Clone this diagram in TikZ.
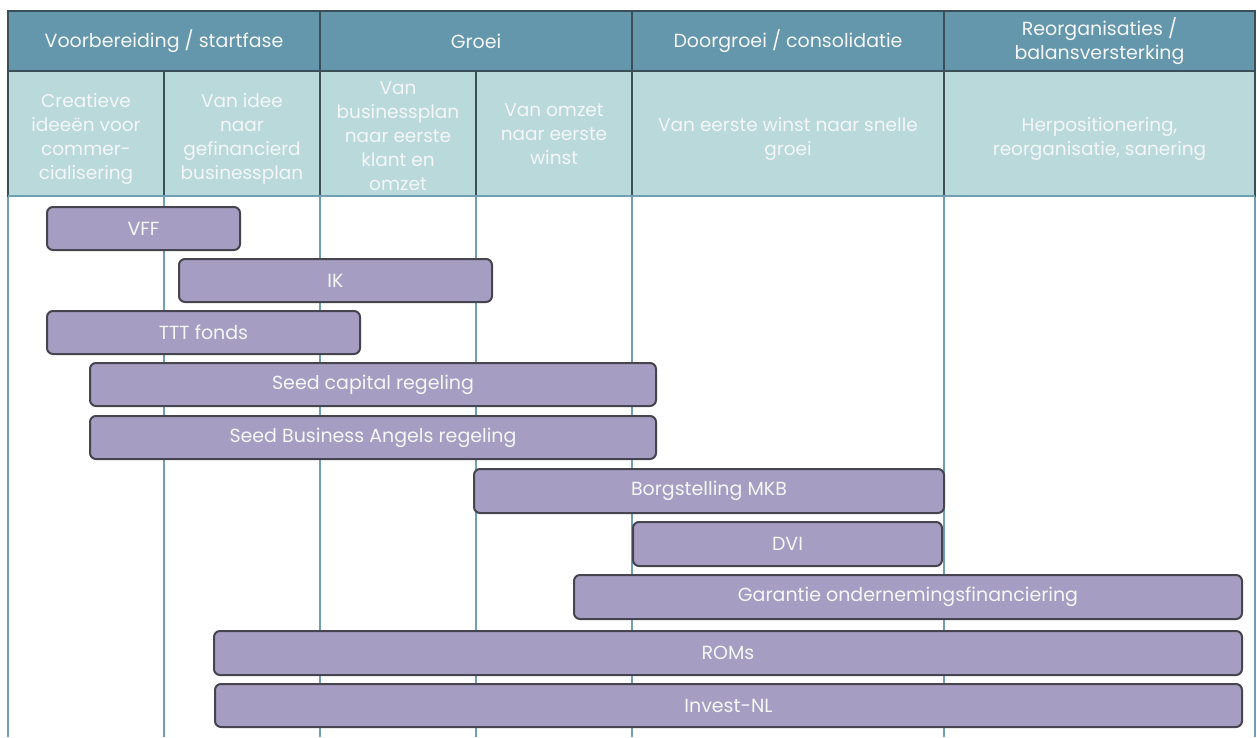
\documentclass[tikz,border=0pt]{standalone}
\usepackage{fontspec}
\setmainfont{Poppins}
\definecolor{hdrfill}{HTML}{6496AC}
\definecolor{subfill}{HTML}{BAD9DB}
\definecolor{gridc}{HTML}{3A4F57}
\definecolor{tealc}{HTML}{6E9FB4}
\definecolor{barfill}{HTML}{A59EC2}
\definecolor{barline}{HTML}{46444F}
\definecolor{txtc}{HTML}{F4F6F7}
\begin{document}
\begin{tikzpicture}[x=1pt,y=-1pt,
  cellbase/.style={draw=gridc, line width=2pt, inner sep=0pt, outer sep=0pt, align=center, text=txtc},
  hdr/.style={cellbase, fill=hdrfill, minimum height=61pt, font=\fontsize{19}{24}\selectfont},
  sub/.style={cellbase, fill=subfill, minimum height=125pt},
  subtxt/.style={inner sep=0pt, align=center, text=txtc, font=\fontsize{18.5}{24}\selectfont},
  vline/.style={draw=tealc, line width=2pt},
  bar/.style={draw=barline, fill=barfill, line width=2pt, rounded corners=6pt, inner sep=0pt,
    text=txtc, font=\fontsize{19}{22}\selectfont}]
\useasboundingbox (0,0) rectangle (1257,737);
% body vertical lines
\foreach \x in {8,164,320,476,632,944,1255}{\draw[vline] (\x,196) -- (\x,737);}
% header row
\node[hdr, minimum width=312pt] (h1) at (164,41) {Voorbereiding / startfase};
\node[hdr, minimum width=312pt] (h2) at (476,41) {Groei};
\node[hdr, minimum width=312pt] (h3) at (788,41) {Doorgroei / consolidatie};
\node[hdr, minimum width=311pt] (h4) at (1099.5,41) {Reorganisaties /\\balansversterking};
% sub row cells
\node[sub, minimum width=156pt] (s1) at (86,133.5) {};
\node[sub, minimum width=156pt] (s2) at (242,133.5) {};
\node[sub, minimum width=156pt] (s3) at (398,133.5) {};
\node[sub, minimum width=156pt] (s4) at (554,133.5) {};
\node[sub, minimum width=312pt] (s5) at (788,133.5) {};
\node[sub, minimum width=311pt] (s6) at (1099.5,133.5) {};
\draw[vline] (s1.south west) -- (s6.south east);
% sub row texts
\node[subtxt] (t1) at (86,138.5) {Creatieve\\ideeën voor\\commer-\\cialisering};
\node[subtxt] (t2) at (242,138.5) {Van idee\\naar\\gefinancierd\\businessplan};
\node[subtxt] (t3) at (398,136) {Van\\businessplan\\naar eerste\\klant en\\omzet};
\node[subtxt] (t4) at (554,134.5) {Van omzet\\naar eerste\\winst};
\node[subtxt] (t5) at (788,138.5) {Van eerste winst naar snelle\\groei};
\node[subtxt] (t6) at (1099.5,138.5) {Herpositionering,\\reorganisatie, sanering};
% bars
\node[bar, minimum width=193pt, minimum height=43pt] (vff) at (143.5,228.5) {VFF};
\node[bar, minimum width=313pt, minimum height=43pt] (ik) at (335.5,280.5) {IK};
\node[bar, minimum width=313pt, minimum height=43pt] (ttt) at (203.5,332.5) {TTT fonds};
\node[bar, minimum width=566pt, minimum height=43pt] (seed) at (373,384.5) {Seed capital regeling};
\node[bar, minimum width=566pt, minimum height=43pt] (sba) at (373,437.5) {Seed Business Angels regeling};
\node[bar, minimum width=470pt, minimum height=44pt] (borg) at (709,491) {Borgstelling MKB};
\node[bar, minimum width=309pt, minimum height=44pt] (dvi) at (787.5,544) {DVI};
\node[bar, minimum width=668pt, minimum height=44pt] (gar) at (908,597) {Garantie ondernemingsfinanciering};
\node[bar, minimum width=1028pt, minimum height=44pt] (rom) at (728,653) {ROMs};
\node[bar, minimum width=1027pt, minimum height=43pt] (inl) at (728.5,705.5) {Invest-NL};
\end{tikzpicture}
\end{document}
